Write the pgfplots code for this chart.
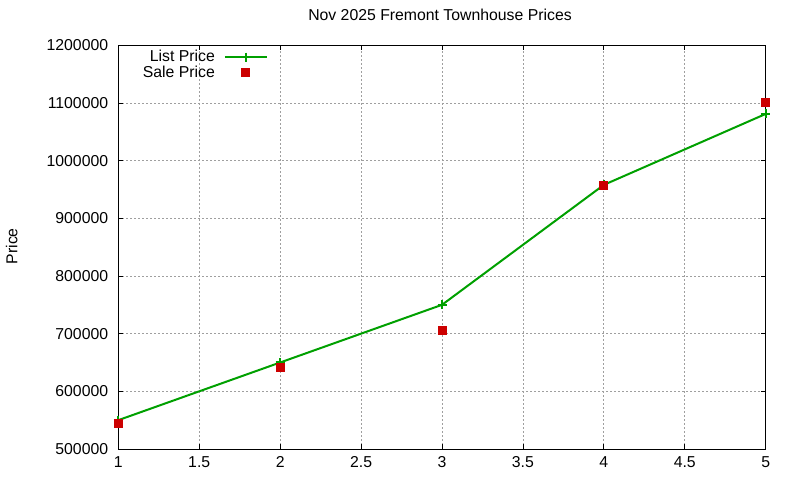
\documentclass[border=0pt]{standalone}
\usepackage{fontspec}
\setmainfont{Liberation Sans}
\usepackage{pgfplots}
\pgfplotsset{compat=1.18}
\definecolor{lp}{RGB}{0,160,0}
\definecolor{sp}{RGB}{204,0,0}
\pgfplotsset{mylegend/.style={legend image code/.code={\draw[mark repeat=2,mark phase=2,##1] plot coordinates {(0bp,0bp)(21bp,0bp)(42bp,0bp)};}}}
\begin{document}
\fontsize{15.8bp}{18bp}\selectfont
\begin{tikzpicture}
\useasboundingbox (-118.3bp,-31bp) rectangle (681.7bp,449bp);
\begin{axis}[
  at={(0,0)}, anchor=south west,
  scale only axis, width=647.4bp, height=403.7bp,
  xmin=1, xmax=5, ymin=500000, ymax=1200000,
  xtick={1,1.5,2,2.5,3,3.5,4,4.5,5},
  xticklabels={1,1.5,2,2.5,3,3.5,4,4.5,5},
  ytick={500000,600000,700000,800000,900000,1000000,1100000,1200000},
  yticklabels={500000,600000,700000,800000,900000,1000000,1100000,1200000},
  scaled y ticks=false,
  tick align=inside, tick pos=both, major tick length=5bp,
  every tick/.style={black, line width=0.8bp},
  axis line style={black, line width=1bp},
  grid=major,
  grid style={color=gray!75, dash pattern=on 1.5bp off 2.5bp, line width=0.8bp},
  xticklabel style={yshift=-2.5bp},
  yticklabel style={xshift=-4.7bp},
  title={Nov 2025 Fremont Townhouse Prices},
  title style={at={(axis description cs:0.5,1)}, anchor=base, yshift=18.6bp, xshift=-2bp},
  clip=false,
  legend plot pos=right,
  legend cell align=right,
  legend style={draw=none, fill=none, at={(axis description cs:0.2313,0.988)}, anchor=north east,
    inner sep=0pt, row sep=1.5bp, column sep=9bp, nodes={inner sep=0pt}},
]
\addplot[color=lp, line width=2bp, mark=+, mark size=4.5bp, mylegend]
  coordinates {(1,550000) (2,650000) (3,750000) (4,958000) (5,1081000)};
\addlegendentry{List Price}
\addplot[only marks, color=sp, mark=square*, mark size=4bp, mark options={fill=sp, draw=sp, line width=0pt}, mylegend]
  coordinates {(1,545000) (2,641000) (3,705000) (4,957000) (5,1101000)};
\addlegendentry{Sale Price}
\end{axis}
\node[rotate=90, anchor=base] at (-101bp,202.7bp) {Price};
\end{tikzpicture}
\end{document}
